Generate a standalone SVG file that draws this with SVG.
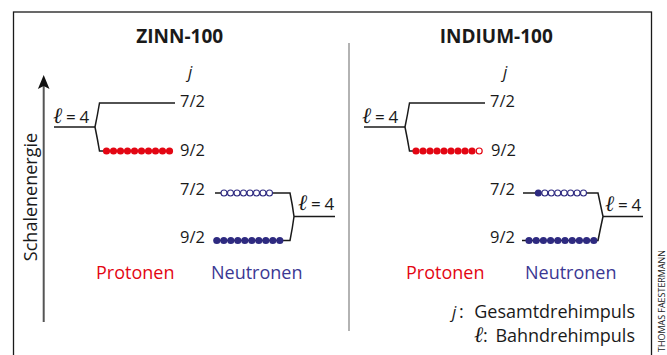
<svg xmlns="http://www.w3.org/2000/svg" width="667" height="355" viewBox="0 0 667 355">
<defs>
<style>
.t{font-family:"Open Sans","Liberation Sans",sans-serif;fill:#1a1a1a}
.title{font-size:19px;font-weight:bold;text-anchor:middle}
.num{font-size:16.5px}
.jj{font-size:17px;font-style:italic}
.ell{font-family:"Liberation Serif","DejaVu Serif",serif;font-style:italic;font-size:22px;fill:#1a1a1a}
.eq{font-family:"Open Sans","Liberation Sans",sans-serif;font-size:17px;fill:#1a1a1a}
.lbl{font-family:"Open Sans","Liberation Sans",sans-serif;font-size:18px}
.ln{fill:none;stroke:#1a1a1a;stroke-width:1.5}
.pf{fill:#e30613}
.po{fill:#fff;stroke:#e30613;stroke-width:1.2}
.nf{fill:#2e2a80}
.no{fill:#fff;stroke:#2e2a80;stroke-width:1.1}
</style>
</defs>
<rect x="13.5" y="12" width="638" height="360" fill="#fff" stroke="#1a1a1a" stroke-width="1.3"/>

<g id="frame-divider"><line x1="349" y1="43" x2="349" y2="331" stroke="#8a8a8a" stroke-width="1.3"/></g>

<g id="axis">
<line x1="43.7" y1="322" x2="43.7" y2="86" stroke="#555" stroke-width="2"/>
<path d="M43.7,75 L49.5,89 L43.7,86 L37.9,89 Z" fill="#111"/>
<text class="t" font-size="18" transform="translate(37,197) rotate(-90)" text-anchor="middle">Schalenenergie</text>
</g>

<g id="title-zinn"><text class="t title" x="179.7" y="42.7">ZINN-100</text></g>
<g id="title-indium"><text class="t title" x="496.3" y="42.7">INDIUM-100</text></g>

<g id="j-left"><text class="t jj" x="188" y="78">j</text></g>
<g id="j-right"><text class="t jj" x="503" y="78">j</text></g>

<g id="connectors">
<path class="ln" d="M175,103 H99.5 Q97.5,115 95,127 Q97.5,139 99.5,151 H104"/>
<path class="ln" d="M54,127 H95"/>
<path class="ln" d="M485,103 H409.5 Q407.5,115 405,127 Q407.5,139 409.5,151 H414"/>
<path class="ln" d="M364,127 H405"/>
<path class="ln" d="M215,193 H290 Q292.5,205 294,216.5 Q292.5,228 290,240.5 H216"/>
<path class="ln" d="M294,216.5 H335"/>
<path class="ln" d="M523,193 H598 Q600.5,205 603,216.5 Q600.5,228 598,240.5 H522"/>
<path class="ln" d="M603,216.5 H643"/>
</g>

<g id="zinn-protons">
<text class="ell" x="53" y="123.3">ℓ</text><text class="eq" x="66" y="123.3">=</text><text class="eq" x="79.5" y="123.3">4</text>
<text class="t num" x="180" y="107.3">7/2</text>
<text class="t num" x="180" y="156">9/2</text>
<circle class="pf" cx="106.5" cy="151" r="3.6"/><circle class="pf" cx="113.5" cy="151" r="3.6"/><circle class="pf" cx="120.5" cy="151" r="3.6"/><circle class="pf" cx="127.5" cy="151" r="3.6"/><circle class="pf" cx="134.5" cy="151" r="3.6"/><circle class="pf" cx="141.5" cy="151" r="3.6"/><circle class="pf" cx="148.5" cy="151" r="3.6"/><circle class="pf" cx="155.5" cy="151" r="3.6"/><circle class="pf" cx="162.5" cy="151" r="3.6"/><circle class="pf" cx="169.5" cy="151" r="3.6"/>
<text class="lbl" x="96" y="279.3" fill="#e30613">Protonen</text>
</g>

<g id="zinn-neutrons">
<text class="t num" x="180" y="195">7/2</text>
<text class="t num" x="180" y="243.3">9/2</text>
<text class="ell" x="298" y="210">ℓ</text><text class="eq" x="311" y="210">=</text><text class="eq" x="324.5" y="210">4</text>
<circle class="no" cx="224" cy="193" r="3"/><circle class="no" cx="230.5" cy="193" r="3"/><circle class="no" cx="237" cy="193" r="3"/><circle class="no" cx="243.5" cy="193" r="3"/><circle class="no" cx="250" cy="193" r="3"/><circle class="no" cx="256.5" cy="193" r="3"/><circle class="no" cx="263" cy="193" r="3"/><circle class="no" cx="269.5" cy="193" r="3"/>
<circle class="nf" cx="216.8" cy="240.5" r="3.6"/><circle class="nf" cx="223.8" cy="240.5" r="3.6"/><circle class="nf" cx="230.8" cy="240.5" r="3.6"/><circle class="nf" cx="237.8" cy="240.5" r="3.6"/><circle class="nf" cx="244.8" cy="240.5" r="3.6"/><circle class="nf" cx="251.8" cy="240.5" r="3.6"/><circle class="nf" cx="258.8" cy="240.5" r="3.6"/><circle class="nf" cx="265.8" cy="240.5" r="3.6"/><circle class="nf" cx="272.8" cy="240.5" r="3.6"/><circle class="nf" cx="279.8" cy="240.5" r="3.6"/>
<text class="lbl" x="211" y="279.3" fill="#3b3893">Neutronen</text>
</g>

<g id="indium-protons">
<text class="ell" x="362" y="123.3">ℓ</text><text class="eq" x="375" y="123.3">=</text><text class="eq" x="388.5" y="123.3">4</text>
<text class="t num" x="490" y="107.3">7/2</text>
<text class="t num" x="491" y="156">9/2</text>
<circle class="pf" cx="416" cy="151" r="3.6"/><circle class="pf" cx="423" cy="151" r="3.6"/><circle class="pf" cx="430" cy="151" r="3.6"/><circle class="pf" cx="437" cy="151" r="3.6"/><circle class="pf" cx="444" cy="151" r="3.6"/><circle class="pf" cx="451" cy="151" r="3.6"/><circle class="pf" cx="458" cy="151" r="3.6"/><circle class="pf" cx="465" cy="151" r="3.6"/><circle class="pf" cx="472" cy="151" r="3.6"/><circle class="po" cx="479.2" cy="151" r="3"/>
<text class="lbl" x="406" y="279.3" fill="#e30613">Protonen</text>
</g>

<g id="indium-neutrons">
<text class="t num" x="490" y="195">7/2</text>
<text class="t num" x="490" y="243.3">9/2</text>
<text class="ell" x="605" y="211">ℓ</text><text class="eq" x="618" y="211">=</text><text class="eq" x="631.5" y="211">4</text>
<circle class="nf" cx="538.3" cy="193" r="3.5"/><circle class="no" cx="544.8" cy="193" r="3"/><circle class="no" cx="551.3" cy="193" r="3"/><circle class="no" cx="557.7" cy="193" r="3"/><circle class="no" cx="564.2" cy="193" r="3"/><circle class="no" cx="570.6" cy="193" r="3"/><circle class="no" cx="577.1" cy="193" r="3"/><circle class="no" cx="583.5" cy="193" r="3"/>
<circle class="nf" cx="529" cy="240.5" r="3.6"/><circle class="nf" cx="536.2" cy="240.5" r="3.6"/><circle class="nf" cx="543.4" cy="240.5" r="3.6"/><circle class="nf" cx="550.6" cy="240.5" r="3.6"/><circle class="nf" cx="557.8" cy="240.5" r="3.6"/><circle class="nf" cx="565" cy="240.5" r="3.6"/><circle class="nf" cx="572.2" cy="240.5" r="3.6"/><circle class="nf" cx="579.4" cy="240.5" r="3.6"/><circle class="nf" cx="586.6" cy="240.5" r="3.6"/><circle class="nf" cx="593.8" cy="240.5" r="3.6"/>
<text class="lbl" x="525" y="279.3" fill="#3b3893">Neutronen</text>
</g>

<g id="legend">
<text class="t jj" x="452" y="318.3">j</text><text class="t lbl" x="459" y="318.3">:</text>
<text class="t lbl" x="635" y="318.3" text-anchor="end">Gesamtdrehimpuls</text>
<text class="ell" x="474" y="341.7">ℓ</text><text class="t lbl" x="483" y="341.7">:</text>
<text class="t lbl" x="635" y="341.7" text-anchor="end">Bahndrehimpuls</text>
</g>

<g id="credit"><text class="t" font-size="9" fill="#333" transform="translate(665,250) rotate(-90)" text-anchor="end" textLength="102" lengthAdjust="spacingAndGlyphs">THOMAS FAESTERMANN</text></g>
</svg>
